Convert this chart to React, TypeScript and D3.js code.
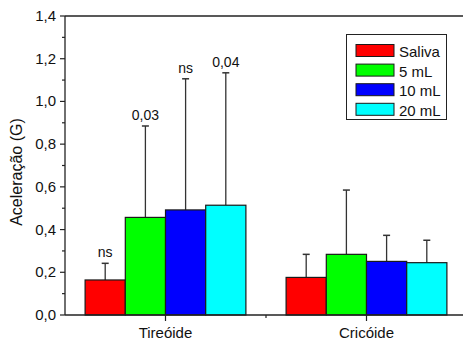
import React from "react";
import * as d3 from "d3";

const categories = ["Tireóide", "Cricóide"];
const series = ["Saliva", "5 mL", "10 mL", "20 mL"];
const colors = ["#ff0000", "#00ff00", "#0000ff", "#00ffff"];
const tireoideMeans = [0.164, 0.457, 0.492, 0.514];
const tireoideErrors = [0.078, 0.428, 0.614, 0.62];
const cricoideMeans = [0.176, 0.284, 0.251, 0.245];
const cricoideErrors = [0.108, 0.301, 0.122, 0.105];
const tireoideLabels = ["ns", "0,03", "ns", "0,04"];
const yTicks = [0, 0.2, 0.4, 0.6, 0.8, 1.0, 1.2, 1.4];

const W = 463;
const H = 340;
const font = "'Liberation Sans', Arial, sans-serif";

export default function App() {
  const x = d3.scaleLinear().domain([0.5, 2.5]).range([65, 467]);
  const y = d3.scaleLinear().domain([0, 1.4]).range([315, 16]);
  const inner = d3.scaleBand<string>().domain(series).range([-0.4, 0.4]);
  const means = [tireoideMeans, cricoideMeans];
  const errs = [tireoideErrors, cricoideErrors];
  const minorY = d3.range(0.1, 1.4, 0.2);
  const fmt = (v: number) => d3.format(".1f")(v).replace(".", ",");

  return (
    <svg width={W} height={H} style={{ position: "absolute", left: 0, top: 0, background: "#fff" }} fontFamily={font}>
      <rect x={0} y={0} width={W} height={H} fill="#fff" />
      {categories.map((c, ci) =>
        series.map((s, si) => {
          const x0 = x(ci + 1 + (inner(s) as number));
          const x1 = x(ci + 1 + (inner(s) as number) + inner.bandwidth());
          const m = means[ci][si];
          const e = errs[ci][si];
          const xc = (x0 + x1) / 2;
          return (
            <g key={c + s}>
              <line x1={xc} x2={xc} y1={y(m)} y2={y(m + e)} stroke="#333" strokeWidth={1.3} />
              <line x1={xc - 3.5} x2={xc + 3.5} y1={y(m + e)} y2={y(m + e)} stroke="#333" strokeWidth={1.5} />
              <rect x={x0} y={y(m)} width={x1 - x0} height={y(0) - y(m)} fill={colors[si]} stroke="#1a1a1a" strokeWidth={1.2} />
              {ci === 0 && (
                <text x={xc} y={y(m + e) - 6} textAnchor="middle" fontSize={14} fill="#111">
                  {tireoideLabels[si]}
                </text>
              )}
            </g>
          );
        })
      )}
      {/* frame */}
      <line x1={65} x2={W} y1={y(1.4)} y2={y(1.4)} stroke="#222" strokeWidth={1.3} />
      <line x1={65} x2={65} y1={y(1.4)} y2={y(0)} stroke="#222" strokeWidth={1.3} />
      <line x1={65} x2={W} y1={y(0)} y2={y(0)} stroke="#222" strokeWidth={1.3} />
      {yTicks.map((t) => (
        <g key={t}>
          <line x1={60} x2={65} y1={y(t)} y2={y(t)} stroke="#222" strokeWidth={1.2} />
          <text x={56} y={y(t) + 5} textAnchor="end" fontSize={15} fill="#111">
            {fmt(t)}
          </text>
        </g>
      ))}
      {minorY.map((t) => (
        <line key={t} x1={62} x2={65} y1={y(t)} y2={y(t)} stroke="#222" strokeWidth={1.2} />
      ))}
      {categories.map((c, ci) => (
        <g key={c}>
          <line x1={x(ci + 1)} x2={x(ci + 1)} y1={y(0)} y2={y(0) + 6} stroke="#222" strokeWidth={1.2} />
          <text x={x(ci + 1)} y={338} textAnchor="middle" fontSize={15} fill="#111">
            {c}
          </text>
        </g>
      ))}
      <line x1={x(1.5)} x2={x(1.5)} y1={y(0)} y2={y(0) + 3} stroke="#222" strokeWidth={1.2} />
      <text transform={`translate(22,172) rotate(-90)`} textAnchor="middle" fontSize={16} fill="#111">
        Aceleração (G)
      </text>
      {/* legend */}
      <rect x={346.5} y={34.5} width={100} height={85} fill="#fff" stroke="#222" strokeWidth={1} />
      {series.map((s, si) => (
        <g key={s}>
          <rect x={356} y={44.5 + si * 19.6} width={38} height={12} fill={colors[si]} stroke="#1a1a1a" strokeWidth={1} />
          <text x={399} y={57 + si * 19.6} fontSize={15} fill="#111">
            {s}
          </text>
        </g>
      ))}
    </svg>
  );
}
